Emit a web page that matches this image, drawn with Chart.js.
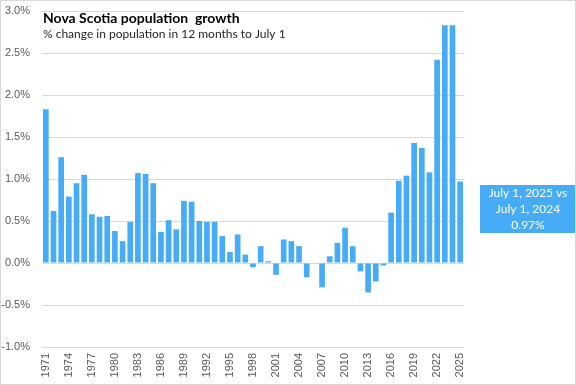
<!DOCTYPE html>
<html>
<head>
<meta charset="utf-8">
<script src="https://cdn.jsdelivr.net/npm/chart.js@4"></script>
<style>
    html, body { margin: 0; padding: 0; background: #fff; }
    #wrap { width: 576px; height: 385px; }
</style>
</head>
<body>
<div id="wrap"><canvas id="myChart" width="576" height="385"></canvas></div>
<script>
var years = [];
for (var y = 1971; y <= 2025; y++) {
    years.push(String(y));
}

// % change in population, 12 months to July 1
var growth = [
    1.83, 0.62, 1.26, 0.79, 0.95, 1.05, 0.58, 0.55, 0.56, 0.38,
    0.26, 0.49, 1.07, 1.06, 0.95, 0.37, 0.51, 0.40, 0.74, 0.73,
    0.50, 0.49, 0.49, 0.32, 0.13, 0.34, 0.10, -0.05, 0.20, 0.02,
    -0.14, 0.28, 0.26, 0.20, -0.17, 0.00, -0.29, 0.08, 0.24, 0.42,
    0.20, -0.10, -0.35, -0.22, -0.03, 0.60, 0.98, 1.04, 1.43, 1.37,
    1.08, 2.42, 2.83, 2.83, 0.97
];

var titleText = 'Nova Scotia population  growth';
var subtitleText = '% change in population in 12 months to July 1';
var calloutLines = ['July 1, 2025 vs', 'July 1, 2024', '0.97%'];

var barColor = '#47acf7';
var gridColor = '#d9d9d9';
var tickColor = '#595959';

var extras = {
    id: 'extras',
    afterDraw: function (chart) {
        var ctx = chart.ctx;
        ctx.save();
        // title + subtitle
        ctx.textBaseline = 'middle';
        ctx.textAlign = 'left';
        ctx.fillStyle = '#000';
        ctx.font = 'bold 14px Lato';
        ctx.fillText(titleText, 43, 18);
        ctx.fillStyle = '#262626';
        ctx.font = '12px Lato';
        ctx.fillText(subtitleText, 43, 34);
        // callout
        ctx.fillStyle = barColor;
        ctx.fillRect(480, 185, 96, 48);
        ctx.fillStyle = '#fff';
        ctx.textAlign = 'center';
        ctx.font = '12px Lato';
        calloutLines.forEach(function (line, i) {
            ctx.fillText(line, 528, 193 + i * 16);
        });
        // outer border
        ctx.strokeStyle = gridColor;
        ctx.lineWidth = 1;
        ctx.strokeRect(0.5, 0.5, 575, 384);
        ctx.restore();
    }
};

new Chart(document.getElementById('myChart').getContext('2d'), {
    type: 'bar',
    data: {
        labels: years,
        datasets: [{
            data: growth,
            backgroundColor: barColor,
            barPercentage: 0.74,
            categoryPercentage: 1.0
        }]
    },
    options: {
        responsive: false,
        animation: false,
        layout: {padding: {left: 0, top: 11, right: 112, bottom: 0}},
        plugins: {
            legend: {display: false},
            tooltip: {enabled: false}
        },
        scales: {
            x: {
                grid: {display: false, drawTicks: false},
                border: {display: false},
                ticks: {
                    autoSkip: false,
                    maxRotation: 90,
                    minRotation: 90,
                    padding: 6,
                    color: tickColor,
                    font: {family: 'Liberation Sans', size: 11},
                    callback: function (value, index) {
                        return index % 3 === 0 ? years[index] : '';
                    }
                },
                afterFit: function (scale) {
                    scale.height = 38;
                    scale.paddingLeft = 0;
                    scale.paddingRight = 0;
                    scale.paddingTop = 0;
                    scale.paddingBottom = 0;
                }
            },
            y: {
                min: -1,
                max: 3,
                grid: {color: gridColor, drawTicks: false},
                border: {display: false},
                ticks: {
                    stepSize: 0.5,
                    padding: 12,
                    color: tickColor,
                    font: {family: 'Liberation Sans', size: 11},
                    callback: function (value) {
                        return value.toFixed(1) + '%';
                    }
                },
                afterFit: function (scale) {
                    scale.width = 42;
                    scale.paddingTop = 0;
                    scale.paddingBottom = 0;
                }
            }
        }
    },
    plugins: [extras]
});
</script>
</body>
</html>
